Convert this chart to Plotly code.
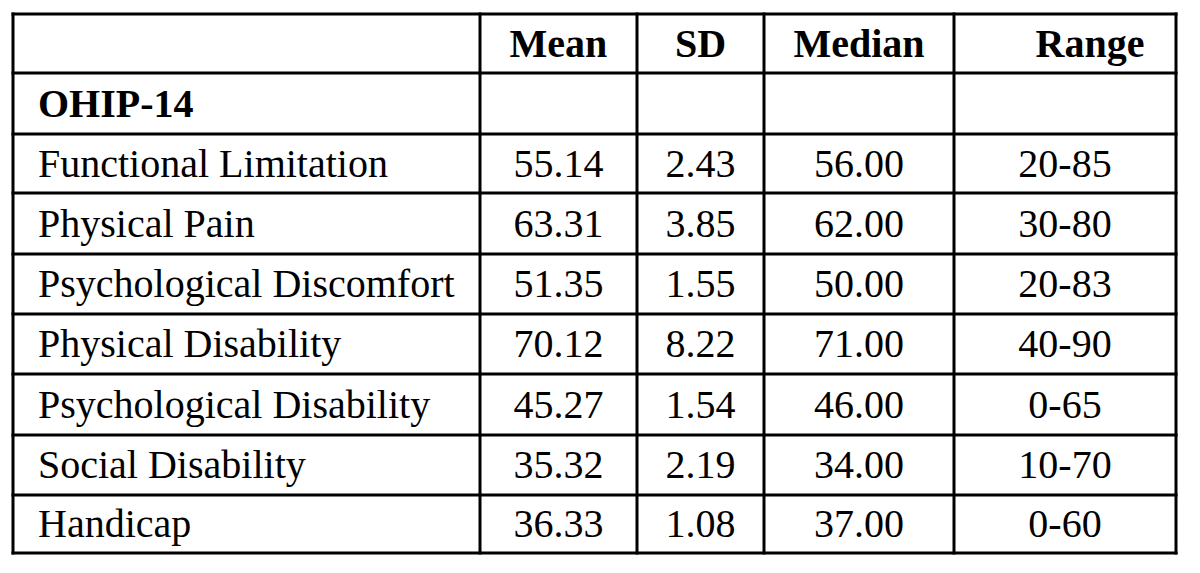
import plotly.graph_objects as go

measures = ["OHIP-14", "Functional Limitation", "Physical Pain", "Psychological Discomfort",
            "Physical Disability", "Psychological Disability", "Social Disability", "Handicap"]
mean = ["", "55.14", "63.31", "51.35", "70.12", "45.27", "35.32", "36.33"]
sd = ["", "2.43", "3.85", "1.55", "8.22", "1.54", "2.19", "1.08"]
median = ["", "56.00", "62.00", "50.00", "71.00", "46.00", "34.00", "37.00"]
rng = ["", "20-85", "30-80", "20-83", "40-90", "0-65", "10-70", "0-60"]
headers = ["", "Mean", "SD", "Median", "Range"]

# layout (pixel grid of the table, in page coordinates)
W, H = 1200, 573
PAGE_OFF = 8  # default body margin of the html page
col_edges = [13, 480, 637, 764, 954, 1176]
row_edges = [14, 73, 134, 193, 254, 314, 374, 435, 495, 553]
LEFT_PAD = 25
TEXT_DY = 3
FONT = "Liberation Serif, Times New Roman, DejaVu Serif, serif"
FS = 40
NB = "\u00a0"

columns = [measures, mean, sd, median, rng]

fig = go.Figure()

# grid lines
for x in col_edges:
    fig.add_shape(type="line", x0=x, x1=x, y0=row_edges[0] - 1.5, y1=row_edges[-1] + 1.5,
                  xref="x", yref="y", line=dict(color="black", width=3))
for y in row_edges:
    fig.add_shape(type="line", x0=col_edges[0] - 1.5, x1=col_edges[-1] + 1.5, y0=y, y1=y,
                  xref="x", yref="y", line=dict(color="black", width=3))

# text cells
xs_c, ys_c, ts_c = [], [], []
xs_l, ys_l, ts_l = [], [], []
for ci, col in enumerate(columns):
    cx = (col_edges[ci] + col_edges[ci + 1]) / 2
    texts = [headers[ci]] + list(col)
    for ri, t in enumerate(texts):
        if not t:
            continue
        cy = (row_edges[ri] + row_edges[ri + 1]) / 2 + TEXT_DY
        bold = ri == 0 or (ci == 0 and ri == 1)
        label = "<b>%s</b>" % t if bold else t
        if ci == 0:
            xs_l.append(col_edges[0] + LEFT_PAD); ys_l.append(cy); ts_l.append(label)
        else:
            if ri == 0 and ci == 4:
                label = NB * 5 + label
            xs_c.append(cx); ys_c.append(cy); ts_c.append(label)

fig.add_trace(go.Scatter(x=xs_l, y=ys_l, text=ts_l, mode="text", textposition="middle right",
                         textfont=dict(family=FONT, size=FS, color="black"),
                         hoverinfo="skip", showlegend=False))
fig.add_trace(go.Scatter(x=xs_c, y=ys_c, text=ts_c, mode="text", textposition="middle center",
                         textfont=dict(family=FONT, size=FS, color="black"),
                         hoverinfo="skip", showlegend=False))

fig.update_xaxes(range=[PAGE_OFF, W + PAGE_OFF], visible=False, fixedrange=True)
fig.update_yaxes(range=[H + PAGE_OFF, PAGE_OFF], visible=False, fixedrange=True)
fig.update_layout(width=W, height=H, margin=dict(l=0, r=0, t=0, b=0),
                  paper_bgcolor="white", plot_bgcolor="white",
                  font=dict(family=FONT))
fig.write_html("out.html")
